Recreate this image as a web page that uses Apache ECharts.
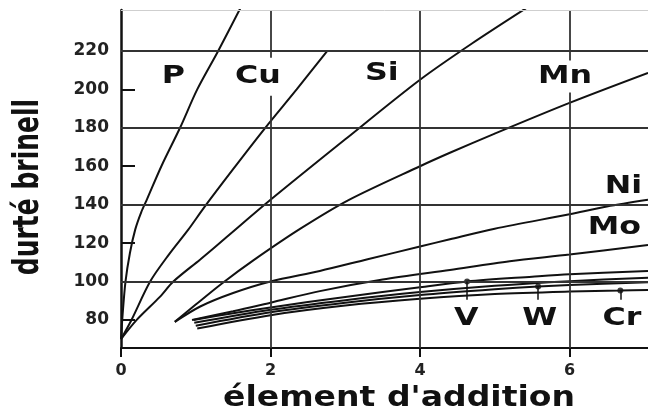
<!DOCTYPE html>
<html><head><meta charset="utf-8">
<script src="https://cdn.jsdelivr.net/npm/echarts@6/dist/echarts.min.js"></script>
<style>html,body{margin:0;padding:0;background:#fff}#c{width:648px;height:412px}</style>
</head><body><div id="c"></div>
<script>
// ---- axis values ----
const xTickValues = [0, 2, 4, 6];
const yLabelValues = [80, 100, 120, 140, 160, 180, 200, 220];
const yShortTicks = [80, 120, 160, 200];
const yGridValues = [100, 140, 180, 220];
const xGridValues = [2, 4, 6];
const xRange = [0, 7.05];
const yRange = [65.4, 241.3];

// ---- curves (x = % element, y = Brinell hardness) ----
const P  = [[0,70],[0.02,82],[0.06,100],[0.12,115],[0.19,127],[0.27,136],[0.35,143],[0.54,160],[0.79,180],[1.02,200],[1.30,220],[1.62,244]];
const Cu = [[0,70],[0.14,80],[0.39,100],[0.64,114],[0.9,127],[1.12,139],[1.5,158.5],[1.93,180],[2.35,200],[2.76,220]];
const Si = [[0,70],[0.21,80],[0.52,92],[0.7,100],[1.06,111.5],[1.41,123],[2,142.5],[3,174],[4,205],[4.7,224],[5.45,243]];
const Mn = [[0.72,79],[1.0,88],[1.35,99],[1.77,111],[2.4,127.5],[3.05,142.5],[4,160],[4.4,167],[5,177],[6,193],[7.05,208.6]];
const Ni = [[0.72,79],[1.06,87],[1.5,94],[2,100],[2.66,105.5],[3.3,111.6],[4,118.2],[4.4,122],[5,127.5],[6,135],[6.5,139],[7.05,142.5]];
const Mo = [[0.95,80],[1.5,84.5],[2,89],[2.66,95],[3.5,101],[4.4,106],[5.2,110.5],[6,114],[7.05,119]];
const V  = [[0.97,80],[1.5,83.5],[2,86.5],[3,92],[4,97],[4.63,100],[5.5,102.5],[6,103.8],[7.05,105.5]];
const X  = [[0.98,78.5],[2,85.3],[3,90.3],[4,94.5],[5,97.8],[6,100.2],[7.05,102]];
const W  = [[1.0,77],[2,84],[3,89],[4,93],[5,96],[5.58,97.4],[6,98.2],[7.05,99.6]];
const Cr = [[1.02,75.5],[2,82.5],[3,87.5],[4,91],[5,93.5],[6,94.8],[6.68,95.3],[7.05,95.6]];
const curves = [P, Cu, Si, Mn, Ni, Mo, V, X, W, Cr];
const curveNames = ['P', 'Cu', 'Si', 'Mn', 'Ni', 'Mo', 'V', '', 'W', 'Cr'];

// ---- marked points on V, W, Cr ----
const markerX = [4.63, 5.58, 6.68];
const markerY = [100, 97.4, 95.3];
const markerStemEnd = [90.5, 90.5, 90.5];

// ---- curve label anchors (data coords) ----
const labelNames = ['P', 'Cu', 'Si', 'Mn', 'Ni', 'Mo', 'V', 'W', 'Cr'];
const labelX = [0.70, 1.83, 3.49, 5.94, 6.72, 6.60, 4.62, 5.60, 6.70];
const labelY = [206.5, 206.5, 208.3, 206.7, 149.2, 127.9, 80.8, 80.8, 80.8];

const xTitle = "élement d'addition";
const yTitle = 'durté brinell';

const INK = '#111';
const FONT = '"DejaVu Sans", sans-serif';

const chart = echarts.init(document.getElementById('c'), null, { renderer: 'canvas' });

const series = [];
// gridlines
series.push({
  type: 'line', data: [[0, 70]], showSymbol: false, symbolSize: 0, silent: true, z: 1,
  lineStyle: { opacity: 0 },
  markLine: {
    silent: true, symbol: 'none', animation: false,
    label: { show: false },
    lineStyle: { color: '#333', width: 1.8, type: 'solid' },
    data: [
      ...yGridValues.map(v => ({ yAxis: v })),
      ...xGridValues.map(v => ({ xAxis: v })),
      { yAxis: yRange[1], lineStyle: { color: '#cfcfcf', width: 1, type: 'solid' } }
    ]
  }
});
curves.forEach((d, i) => {
  series.push({
    name: curveNames[i] || 'autre', type: 'line', data: d, showSymbol: false,
    smooth: 0.3, clip: true, z: 3, animation: false,
    lineStyle: { color: INK, width: 2 }
  });
});
series.push({
  type: 'scatter', z: 4, animation: false,
  data: markerX.map((x, i) => [x, markerY[i]]),
  symbolSize: 6, itemStyle: { color: INK },
  markLine: {
    silent: true, symbol: 'none', animation: false, label: { show: false },
    lineStyle: { color: INK, width: 1.5, type: 'solid' },
    data: markerX.map((x, i) => [{ coord: [x, markerY[i]] }, { coord: [x, markerStemEnd[i]] }])
  }
});

chart.setOption({
  backgroundColor: '#fff',
  animation: false,
  grid: { left: 121, right: 0, top: 10, bottom: 64, containLabel: false },
  xAxis: {
    type: 'value', min: xRange[0], max: xRange[1],
    axisLine: { show: true, onZero: false, lineStyle: { color: INK, width: 2 } },
    axisTick: { show: true, inside: false, length: 9, customValues: xTickValues, lineStyle: { color: INK, width: 2 } },
    axisLabel: { customValues: xTickValues, margin: 15, color: '#222', fontFamily: FONT, fontWeight: 'bold', fontSize: 16 },
    splitLine: { show: false }
  },
  yAxis: {
    type: 'value', min: yRange[0], max: yRange[1],
    axisLine: { show: true, onZero: false, lineStyle: { color: INK, width: 2.5 } },
    axisTick: { show: true, inside: true, length: 14, customValues: yShortTicks, lineStyle: { color: INK, width: 2 } },
    axisLabel: { customValues: yLabelValues, margin: 12, color: '#222', fontFamily: FONT, fontWeight: 'bold', fontSize: 17 },
    splitLine: { show: false }
  },
  series
});

const graphics = labelNames.map((n, i) => {
  const p = chart.convertToPixel({ gridIndex: 0 }, [labelX[i], labelY[i]]);
  const bg = (n === 'Cu' || n === 'Mn');
  return {
    type: 'text', x: p[0], y: p[1], scaleX: 1.32, z: 100,
    style: {
      text: n, fill: INK, fontFamily: FONT, fontWeight: 'bold', fontSize: 24,
      align: 'center', verticalAlign: 'middle', textAlign: 'center', textVerticalAlign: 'middle',
      backgroundColor: bg ? '#fff' : 'transparent', padding: n === 'Cu' ? [7, 1] : (n === 'Mn' ? [5, 0, 3, 0] : 0)
    }
  };
});
graphics.push({
  type: 'text', x: 29, y: 187, rotation: Math.PI / 2, scaleY: 1.4, z: 100,
  style: { text: yTitle, fill: INK, fontFamily: FONT, fontWeight: 'bold', fontSize: 25,
    align: 'center', verticalAlign: 'middle', textAlign: 'center', textVerticalAlign: 'middle' }
});
graphics.push({
  type: 'text', x: 399, y: 398, scaleX: 1.14, z: 100,
  style: { text: xTitle, fill: INK, fontFamily: FONT, fontWeight: 'bold', fontSize: 29,
    align: 'center', verticalAlign: 'middle', textAlign: 'center', textVerticalAlign: 'middle' }
});
chart.setOption({ graphic: graphics });
</script>
</body></html>
